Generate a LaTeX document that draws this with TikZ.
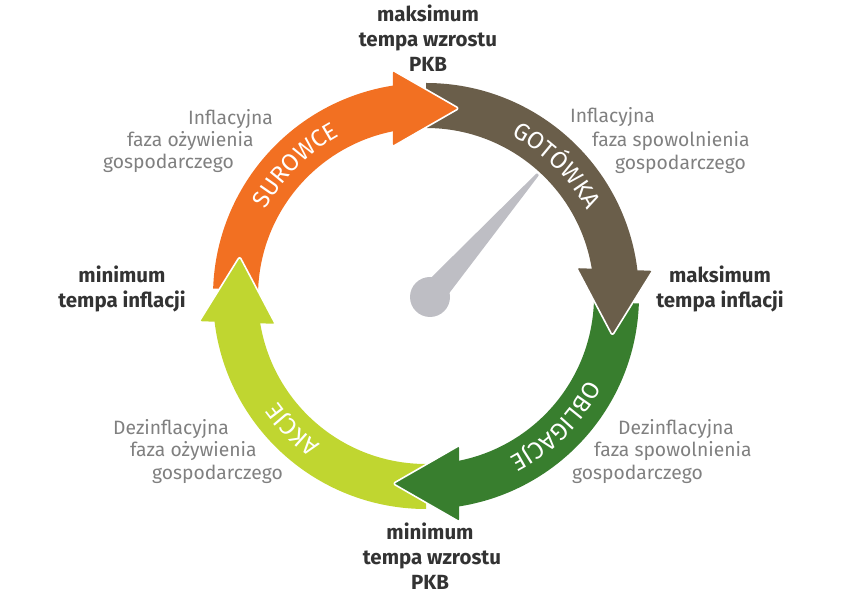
\documentclass[tikz,border=0pt]{standalone}
\usepackage{fontspec}
\setmainfont{Fira Sans}
\newfontfamily\lightfam{Fira Sans Light}
\usetikzlibrary{calc,decorations.text}
\definecolor{surowce}{RGB}{242,112,34}
\definecolor{gotowka}{RGB}{106,94,74}
\definecolor{obligacje}{RGB}{56,126,46}
\definecolor{akcje}{RGB}{192,214,48}
\definecolor{needle}{RGB}{190,190,196}
\definecolor{greytxt}{RGB}{128,128,128}
\definecolor{darktxt}{RGB}{51,51,51}
\newcommand\bandfont{\fontsize{24}{24}\selectfont}
\tikzset{
  gl/.style={font=\fontsize{19.3}{19.3}\selectfont,text=greytxt,inner sep=0pt,anchor=base west},
  bl/.style={font=\bfseries\fontsize{20.5}{20.5}\selectfont,text=darktxt,inner sep=0pt,anchor=base},
  head/.style={rounded corners=2.5pt},
  rim/.style={draw=white,line width=1.6pt,line join=round,rounded corners=2.5pt},
  bandtxt/.style={decorate,decoration={text along path,text align=center,text color=white}},
}
\begin{document}
\begin{tikzpicture}[x=1pt,y=1pt]
\useasboundingbox (0,0) rectangle (842,596);
\coordinate (C) at (426,300);
% needle
\coordinate (H) at (430,299); \coordinate (T) at (538,422);
\fill[needle,rounded corners=1pt] ($(H)+(138.7:13pt)$) -- ($(T)+(138.7:1.5pt)$)
  -- ($(T)+(-41.3:1.5pt)$) -- ($(H)+(-41.3:13pt)$) -- cycle;
\fill[needle] (H) circle[radius=20pt];
% bands
\fill[surowce] ($(C)+(178:213pt)$) arc[start angle=178,end angle=97,radius=213pt]
  -- ($(C)+(97:168pt)$) arc[start angle=97,end angle=178,radius=168pt] -- cycle;
\fill[gotowka] ($(C)+(90:213pt)$) arc[start angle=90,end angle=5,radius=213pt]
  -- ($(C)+(5:168pt)$) arc[start angle=5,end angle=90,radius=168pt] -- cycle;
\fill[obligacje] ($(C)+(-2:213pt)$) arc[start angle=-2,end angle=-83,radius=213pt]
  -- ($(C)+(-83:168pt)$) arc[start angle=-83,end angle=-2,radius=168pt] -- cycle;
\fill[akcje] ($(C)+(270:213pt)$) arc[start angle=270,end angle=185,radius=213pt]
  -- ($(C)+(185:168pt)$) arc[start angle=185,end angle=270,radius=168pt] -- cycle;
% arrow heads
\coordinate (sO) at ($(C)+(100:190.5pt)+(90:38pt)$);
\coordinate (sT) at ($(C)+(80:190.5pt)$);
\coordinate (sI) at ($(C)+(100:190.5pt)+(-90:38pt)$);
\coordinate (gO) at ($(C)+(8:190.5pt)+(-2:38pt)$);
\coordinate (gT) at ($(C)+(-12:190.5pt)$);
\coordinate (gI) at ($(C)+(8:190.5pt)+(178:38pt)$);
\coordinate (oO) at ($(C)+(-80:190.5pt)+(-90:38pt)$);
\coordinate (oT) at ($(C)+(-100:190.5pt)$);
\coordinate (oI) at ($(C)+(-80:190.5pt)+(90:38pt)$);
\coordinate (aO) at ($(C)+(188:190.5pt)+(178:38pt)$);
\coordinate (aT) at ($(C)+(168:190.5pt)$);
\coordinate (aI) at ($(C)+(188:190.5pt)+(-2:38pt)$);
\fill[surowce,head] (sO) -- (sT) -- (sI) -- cycle;
\draw[rim] (sO) -- (sT) -- (sI);
\fill[gotowka,head] (gO) -- (gT) -- (gI) -- cycle;
\draw[rim] (gO) -- (gT) -- (gI);
\fill[obligacje,head] (oO) -- (oT) -- (oI) -- cycle;
\draw[rim] (oO) -- (oT) -- (oI);
\fill[akcje,head] (aO) -- (aT) -- (aI) -- cycle;
\draw[rim] (aO) -- (aT) -- (aI);
% band texts
\path[bandtxt,decoration={text={|\bandfont|SUROWCE}}]
  ($(C)+(195:182pt)$) arc[start angle=195,end angle=75,radius=182pt];
\path[bandtxt,decoration={text={|\bandfont|GOTÓWKA}}]
  ($(C)+(105:182pt)$) arc[start angle=105,end angle=-15,radius=182pt];
\path[bandtxt,decoration={text={|\bandfont|OBLIGACJE}}]
  ($(C)+(15:182pt)$) arc[start angle=15,end angle=-105,radius=182pt];
\path[bandtxt,decoration={text={|\bandfont|AKCJE}}]
  ($(C)+(285:182pt)$) arc[start angle=285,end angle=165,radius=182pt];
% turning points
\node[bl] (top1) at (428,574) {maksimum};
\node[bl] (top2) at (428,549) {tempa wzrostu};
\node[bl] (top3) at (428,524) {PKB};
\node[bl] (lft1) at (122,313) {minimum};
\node[bl] (lft2) at (122,288) {tempa inflacji};
\node[bl] (rgt1) at (720,313) {maksimum};
\node[bl] (rgt2) at (720,288) {tempa inflacji};
\node[bl] (bot1) at (430,56) {minimum};
\node[bl] (bot2) at (432,31) {tempa wzrostu};
\node[bl] (bot3) at (430,6) {PKB};
% phases
\node[gl] (ul1) at (188,471) {Inflacyjna};
\node[gl] (ul2) at (127,449) {faza ożywienia};
\node[gl] (ul3) at (103,427) {gospodarczego};
\node[gl] (ur1) at (570,473) {Inflacyjna};
\node[gl] (ur2) at (592,449) {faza spowolnienia};
\node[gl] (ur3) at (615,426) {gospodarczego};
\node[gl] (ll1) at (113,161) {Dezinflacyjna};
\node[gl] (ll2) at (130,139) {faza ożywienia};
\node[gl] (ll3) at (152,116) {gospodarczego};
\node[gl] (lr1) at (618,161) {Dezinflacyjna};
\node[gl] (lr2) at (594,139) {faza spowolnienia};
\node[gl] (lr3) at (572,116) {gospodarczego};
\end{tikzpicture}
\end{document}
